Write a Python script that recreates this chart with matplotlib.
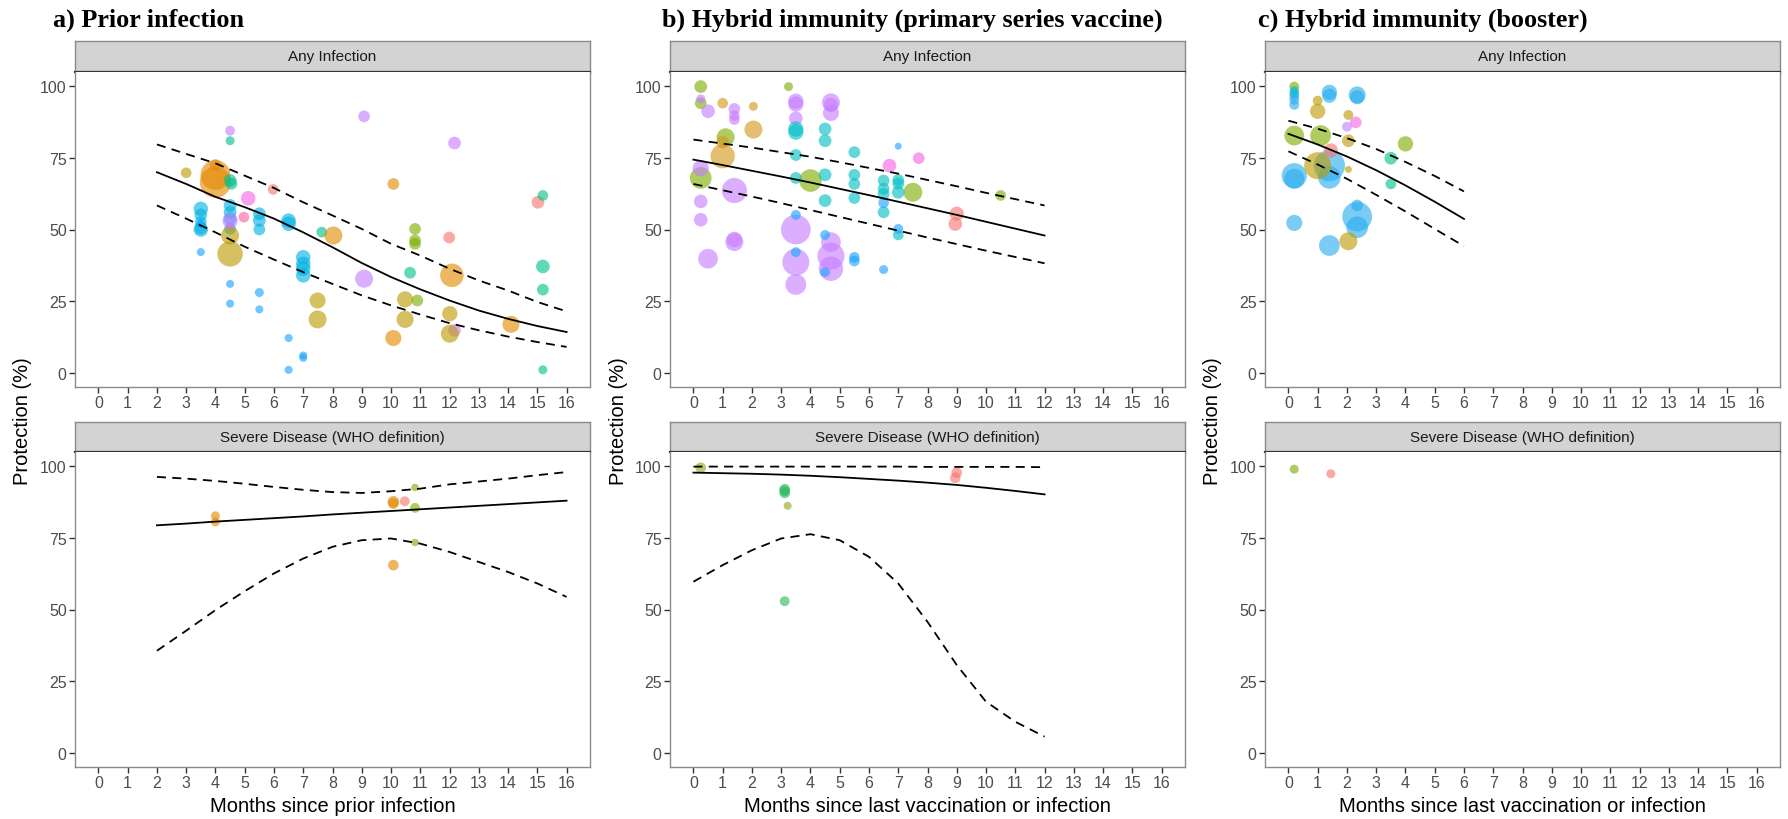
import numpy as np
import matplotlib
matplotlib.use("Agg")
import matplotlib.pyplot as plt

plt.rcParams['font.family'] = ['Liberation Sans', 'DejaVu Sans']

# colour groups (study) -> ggplot-like hue colours
palette = {
    'salmon': '#F8766D', 'orange': '#E38900', 'amber': '#D4961A', 'olive': '#BC9C00',
    'green': '#7CAE00', 'lime': '#8DAA1E', 'emerald': '#2DBA5E', 'teal': '#00C08B',
    'cyan': '#00BFC4', 'sky': '#00B2E2', 'blue': '#1AA3FF', 'lblue': '#2AAEEE',
    'purple': '#C77CFF', 'magenta': '#F564E3', 'pink': '#FB61A0',
}

titles = ['a) Prior infection', 'b) Hybrid immunity (primary series vaccine)',
          'c) Hybrid immunity (booster)']
xlabels = ['Months since prior infection', 'Months since last vaccination or infection',
           'Months since last vaccination or infection']
strips = ['Any Infection', 'Severe Disease (WHO definition)']

# ---------------- a) prior infection, any infection ----------------
a_inf_x = [3.0, 4.0, 4.0, 4.0, 4.5, 4.55, 4.5, 4.5,
           3.5, 3.5, 3.5, 3.5, 3.5, 3.5, 3.5,
           4.5, 4.5, 4.5, 4.5, 4.5, 4.5, 4.5, 4.5, 4.5, 4.5,
           5.12, 4.97, 5.5, 5.5, 5.5, 5.5, 5.5, 5.97,
           6.5, 6.5, 6.5, 6.5, 7.0, 7.0, 7.0, 7.0, 7.0, 7.0,
           7.63, 8.03, 7.49, 7.49, 9.08, 9.08, 10.08, 10.08, 10.48, 10.48,
           10.82, 10.82, 10.82, 10.9, 10.65, 11.99, 12.17, 12.17, 12.08, 12.01, 12.01,
           14.1, 15.02, 15.19, 15.19, 15.19, 15.19]
a_inf_y = [69.8, 72.5, 69.0, 66.5, 67.1, 66.0, 81.0, 84.5,
           57.2, 55.1, 52.6, 50.0, 50.5, 42.1, 52.0,
           58.4, 56.0, 53.7, 50.2, 53.1, 51.0, 47.9, 41.5, 31.0, 24.1,
           60.9, 54.3, 55.5, 53.1, 50.0, 28.0, 22.1, 64.0,
           53.1, 52.0, 12.1, 1.0, 40.3, 38.0, 36.3, 34.0, 6.0, 5.2,
           49.1, 47.9, 25.2, 18.6, 89.5, 32.8, 65.9, 12.1, 25.6, 18.6,
           50.2, 46.2, 45.0, 25.2, 34.9, 47.2, 80.2, 14.8, 34.0, 20.6, 13.6,
           16.9, 59.5, 61.9, 37.1, 29.0, 1.0]
a_inf_w = [1.4, 1.7, 11.0, 12.0, 2.0, 1.7, 1.0, 1.2,
           2.6, 2.0, 1.7, 2.6, 2.0, 0.8, 0.8,
           2.0, 2.0, 2.0, 1.7, 2.9, 1.0, 4.0, 8.0, 0.8, 0.8,
           2.6, 1.4, 2.0, 2.0, 1.7, 1.0, 0.8, 1.4,
           2.6, 2.6, 0.8, 0.8, 2.6, 2.6, 2.6, 2.6, 0.8, 0.8,
           1.4, 4.0, 3.2, 4.0, 1.7, 4.0, 1.7, 3.2, 3.2, 3.6,
           1.7, 1.7, 1.7, 1.7, 1.7, 1.7, 2.0, 2.0, 6.8, 2.9, 4.0,
           3.6, 2.0, 1.4, 2.3, 1.7, 1.0]
a_inf_c = ['olive', 'orange', 'orange', 'orange', 'teal', 'teal', 'teal', 'purple',
           'sky', 'sky', 'sky', 'sky', 'sky', 'blue', 'blue',
           'sky', 'sky', 'sky', 'sky', 'purple', 'purple', 'olive', 'olive', 'blue', 'blue',
           'magenta', 'pink', 'sky', 'sky', 'sky', 'blue', 'blue', 'salmon',
           'sky', 'sky', 'blue', 'blue', 'sky', 'sky', 'sky', 'sky', 'blue', 'blue',
           'teal', 'orange', 'olive', 'olive', 'purple', 'purple', 'orange', 'orange', 'olive', 'olive',
           'green', 'green', 'green', 'green', 'teal', 'salmon', 'purple', 'purple', 'orange', 'olive', 'olive',
           'orange', 'salmon', 'teal', 'teal', 'teal', 'teal']

a_inf_fit_x = [2, 3, 4, 5, 6, 7, 8, 9, 10, 11, 12, 13, 14, 15, 16]
a_inf_fit = [70.0, 65.9, 61.4, 57.8, 53.8, 49.0, 43.8, 38.3, 33.4, 29.1, 25.2, 21.7, 18.8, 16.3, 14.2]
a_inf_hi = [79.7, 76.4, 73.1, 68.8, 64.5, 59.5, 54.9, 50.2, 45.0, 40.9, 36.3, 32.2, 28.7, 24.7, 21.4]
a_inf_lo = [58.4, 53.8, 49.0, 44.0, 39.5, 35.1, 31.0, 27.0, 23.5, 20.3, 17.3, 14.8, 12.6, 10.7, 9.0]

# ---------------- a) prior infection, severe disease ----------------
a_sev_x = [4.0, 4.0, 10.08, 10.08, 10.08, 10.47, 10.82, 10.82, 10.82]
a_sev_y = [82.7, 80.6, 87.6, 87.0, 65.5, 87.8, 92.6, 85.5, 73.4]
a_sev_w = [1.0, 1.0, 1.7, 1.4, 1.4, 1.2, 0.7, 1.2, 0.7]
a_sev_c = ['orange', 'orange', 'orange', 'orange', 'orange', 'salmon', 'green', 'green', 'green']

a_sev_fit_x = [2, 3, 4, 5, 6, 7, 8, 9, 10, 11, 12, 13, 14, 15, 16]
a_sev_fit = [79.4, 80.0, 80.7, 81.3, 81.9, 82.5, 83.2, 83.8, 84.4, 85.0, 85.6, 86.2, 86.8, 87.4, 88.0]
a_sev_hi = [96.3, 95.7, 94.9, 93.9, 92.8, 91.8, 91.0, 90.7, 91.3, 92.2, 93.7, 94.7, 95.7, 96.9, 98.0]
a_sev_lo = [35.6, 42.6, 49.8, 56.4, 62.6, 67.8, 71.9, 74.2, 74.8, 73.0, 70.1, 66.6, 63.1, 59.1, 54.4]

# ---------------- b) hybrid (primary series), any infection ----------------
b_inf_x = [0.25, 0.25, 0.25, 1.1, 3.25, 4.0, 7.5, 10.5,
           0.25, 0.25, 0.25, 0.25, 0.5, 0.5, 1.4, 1.4, 1.4, 1.4, 1.4, 1.4,
           3.5, 3.5, 3.5, 3.5, 3.5, 3.5, 4.7, 4.7, 4.7, 4.7, 4.7, 4.7,
           1.0, 2.05, 1.0, 1.0, 2.05,
           3.5, 3.5, 3.5, 3.5, 4.5, 4.5, 4.5, 4.5, 5.5, 5.5, 5.5, 5.5,
           6.5, 6.5, 6.5, 6.5, 7.0, 7.0, 7.0, 7.0,
           3.5, 3.5, 4.5, 4.5, 5.5, 5.5, 6.5, 6.5, 7.0, 7.0,
           6.7, 7.7, 9.0, 8.95]
b_inf_y = [99.9, 94.1, 68.0, 82.2, 99.9, 67.1, 63.0, 61.9,
           95.6, 71.4, 59.8, 53.4, 91.3, 39.8, 92.1, 89.8, 88.4, 63.6, 45.6, 46.5,
           94.8, 93.8, 88.8, 50.0, 38.6, 30.8, 94.4, 93.5, 90.7, 45.6, 40.7, 36.3,
           94.1, 93.0, 75.6, 80.5, 84.9,
           85.1, 84.0, 76.0, 68.0, 85.1, 81.0, 69.1, 60.1, 77.0, 69.1, 65.9, 61.0,
           67.1, 64.2, 62.4, 56.0, 67.3, 66.0, 63.0, 48.1,
           55.1, 42.1, 48.1, 35.1, 40.3, 39.0, 59.3, 36.0, 79.1, 50.2,
           72.3, 74.9, 55.5, 51.9]
b_inf_w = [2.0, 1.7, 5.8, 4.0, 1.0, 6.3, 4.4, 1.4,
           1.0, 3.2, 2.3, 2.3, 2.3, 4.8, 1.7, 1.4, 1.4, 7.8, 4.0, 3.0,
           2.9, 2.9, 2.3, 10.9, 9.0, 5.3, 4.0, 2.5, 3.2, 4.8, 9.0, 7.3,
           1.4, 1.0, 7.3, 2.0, 4.0,
           2.9, 2.9, 1.7, 1.7, 2.0, 2.0, 2.0, 2.0, 1.7, 1.7, 1.7, 1.7,
           1.7, 1.7, 1.7, 1.7, 1.7, 1.7, 2.0, 1.4,
           1.2, 1.2, 1.2, 1.2, 1.4, 1.4, 1.4, 1.0, 0.6, 1.2,
           2.3, 1.7, 2.5, 2.3]
b_inf_c = (['green'] * 8 + ['purple'] * 24 + ['amber'] * 5 + ['cyan'] * 20
           + ['blue'] * 10 + ['magenta', 'magenta', 'salmon', 'salmon'])

b_inf_fit_x = [0, 1, 2, 3, 4, 5, 6, 7, 8, 9, 10, 11, 12]
b_inf_fit = [74.4, 72.5, 70.5, 68.5, 66.4, 64.2, 62.0, 59.7, 57.4, 55.1, 52.7, 50.3, 47.9]
b_inf_hi = [81.4, 80.0, 78.6, 77.0, 75.4, 73.5, 71.5, 69.5, 67.3, 65.1, 62.8, 60.6, 58.4]
b_inf_lo = [65.9, 63.7, 61.5, 59.2, 56.8, 54.4, 52.0, 49.6, 47.2, 44.9, 42.6, 40.4, 38.2]

# ---------------- b) hybrid (primary series), severe disease ----------------
b_sev_x = [0.25, 3.22, 3.12, 3.12, 3.12, 3.12, 9.0, 8.95]
b_sev_y = [99.5, 86.2, 92.0, 91.4, 90.7, 52.9, 97.8, 96.0]
b_sev_w = [1.4, 0.8, 1.4, 1.4, 1.4, 1.2, 1.4, 1.4]
b_sev_c = ['lime', 'lime', 'emerald', 'emerald', 'emerald', 'emerald', 'salmon', 'salmon']

b_sev_fit_x = [0, 1, 2, 3, 4, 5, 6, 7, 8, 9, 10, 11, 12]
b_sev_fit = [97.8, 97.6, 97.4, 97.1, 96.7, 96.2, 95.6, 95.0, 94.3, 93.5, 92.5, 91.4, 90.2]
b_sev_hi = [99.9, 99.9, 99.9, 99.9, 99.9, 99.9, 99.9, 99.9, 99.8, 99.8, 99.8, 99.8, 99.7]
b_sev_lo = [59.7, 65.5, 70.7, 74.8, 76.3, 74.2, 68.4, 59.1, 45.7, 30.6, 17.8, 10.8, 5.6]

# ---------------- c) hybrid (booster), any infection ----------------
c_inf_x = [0.2, 0.2, 1.1, 4.0,
           0.2, 0.2, 0.2, 0.2, 0.2, 0.2, 0.2, 1.4, 1.4, 1.4, 1.4, 1.4, 2.35, 2.35, 2.35, 2.35, 2.35,
           0.2, 1.0, 1.0, 1.0, 2.05, 2.05, 2.05, 2.05,
           1.45, 2.0, 2.3, 3.5, 3.5]
c_inf_y = [99.9, 82.8, 82.8, 79.9,
           97.6, 96.7, 95.3, 93.5, 68.8, 67.7, 52.3, 72.3, 68.2, 97.9, 96.7, 44.4, 97.0, 96.2, 54.5, 50.8, 58.4,
           98.5, 95.0, 91.3, 72.3, 90.0, 81.0, 71.0, 45.9,
           77.6, 85.9, 87.4, 74.9, 65.9]
c_inf_w = [1.2, 4.8, 5.3, 2.9,
           1.2, 1.2, 1.2, 1.2, 7.8, 5.0, 3.2, 12.0, 6.3, 2.9, 2.5, 5.3, 3.6, 2.5, 10.9, 5.8, 1.7,
           1.0, 1.2, 2.9, 9.0, 1.2, 2.0, 0.6, 4.0,
           2.5, 1.2, 1.7, 2.0, 1.4]
c_inf_c = (['green'] * 4 + ['lblue'] * 17 + ['cyan'] + ['olive'] * 7
           + ['salmon', 'purple', 'magenta', 'teal', 'teal'])

c_inf_fit_x = [0, 1, 2, 3, 4, 5, 6]
c_inf_fit = [83.4, 79.7, 75.5, 70.7, 65.4, 59.7, 53.7]
c_inf_hi = [88.0, 85.2, 81.9, 78.1, 73.6, 68.7, 63.3]
c_inf_lo = [77.3, 72.7, 67.7, 62.1, 56.3, 50.2, 44.2]

# ---------------- c) hybrid (booster), severe disease ----------------
c_sev_x = [0.2, 1.45]
c_sev_y = [99.0, 97.4]
c_sev_w = [1.0, 1.0]
c_sev_c = ['green', 'salmon']

panels = [
    [(a_inf_x, a_inf_y, a_inf_w, a_inf_c, a_inf_fit_x, a_inf_fit, a_inf_hi, a_inf_lo),
     (a_sev_x, a_sev_y, a_sev_w, a_sev_c, a_sev_fit_x, a_sev_fit, a_sev_hi, a_sev_lo)],
    [(b_inf_x, b_inf_y, b_inf_w, b_inf_c, b_inf_fit_x, b_inf_fit, b_inf_hi, b_inf_lo),
     (b_sev_x, b_sev_y, b_sev_w, b_sev_c, b_sev_fit_x, b_sev_fit, b_sev_hi, b_sev_lo)],
    [(c_inf_x, c_inf_y, c_inf_w, c_inf_c, c_inf_fit_x, c_inf_fit, c_inf_hi, c_inf_lo),
     (c_sev_x, c_sev_y, c_sev_w, c_sev_c, None, None, None, None)],
]

# --- layout in pixels ---
W, H = 1788, 820
fig = plt.figure(figsize=(W / 100, H / 100), dpi=100)

def rect(x0, y0, x1, y1):
    return [x0 / W, 1 - y1 / H, (x1 - x0) / W, (y1 - y0) / H]

lefts = [75, 670, 1265]
pw = 515
rows = [(42, 73, 388), (423, 453, 768)]  # strip top, panel top, panel bottom
title_x = [53, 662, 1258]

for col in range(3):
    x0 = lefts[col]
    fig.text(title_x[col] / W, 1 - 27 / H, titles[col], family='Liberation Serif',
             fontweight='bold', fontsize=18.8, va='baseline', ha='left')
    for row in range(2):
        st, pt, pb = rows[row]
        sax = fig.add_axes(rect(x0, st, x0 + pw, pt))
        sax.set_facecolor('#D3D3D3')
        sax.set_xticks([])
        sax.set_yticks([])
        for s in sax.spines.values():
            s.set_color('#8A8A8A')
            s.set_linewidth(1.0)
        sax.spines['bottom'].set_color('#333333')
        sax.spines['bottom'].set_linewidth(1.6)
        sax.text(0.5, 0.5, strips[row], ha='center', va='center', fontsize=11,
                 color='#1A1A1A', transform=sax.transAxes)

        ax = fig.add_axes(rect(x0, pt, x0 + pw, pb))
        xs, ys, ws, cs, fx, fy, fhi, flo = panels[col][row]
        ax.scatter(xs, ys, s=np.array(ws) * 42, c=[palette[c] for c in cs],
                   alpha=0.62, linewidths=0, zorder=2)
        if fx is not None:
            ax.plot(fx, fy, color='black', lw=1.3, zorder=3)
            ax.plot(fx, fhi, color='black', lw=1.3, ls=(0, (5, 3.5)), zorder=3)
            ax.plot(fx, flo, color='black', lw=1.3, ls=(0, (5, 3.5)), zorder=3)
        ax.set_xlim(-0.8, 16.8)
        ax.set_ylim(-5, 105)
        ax.set_xticks(range(0, 17))
        ax.set_yticks([0, 25, 50, 75, 100])
        ax.tick_params(length=4, width=1, color='#333333', labelcolor='#4D4D4D',
                       labelsize=11.5, pad=2)
        for s in ax.spines.values():
            s.set_color('#8A8A8A')
            s.set_linewidth(1.0)
        ax.spines['top'].set_visible(False)
    fig.text((x0 + pw / 2) / W, 1 - 807 / H, xlabels[col], ha='center', va='center',
             fontsize=14.5)
    fig.text((x0 - 52) / W, 1 - 421 / H, 'Protection (%)', rotation=90,
             ha='center', va='center', fontsize=14.5)

fig.savefig('out.png', dpi=100)
